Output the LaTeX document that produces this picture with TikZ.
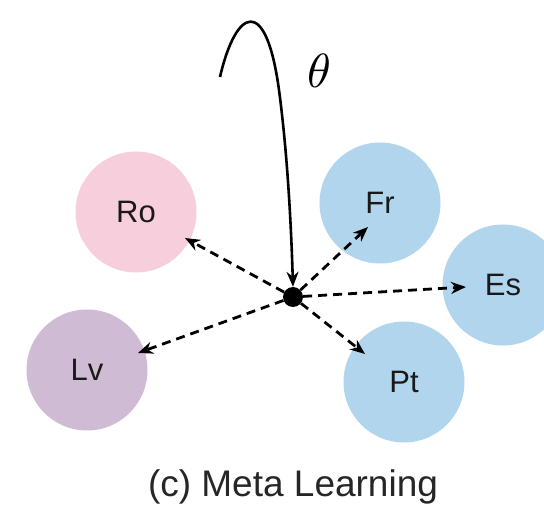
\documentclass[tikz,border=0pt]{standalone}
\usepackage{fontspec}
\setmainfont{Liberation Sans}
\usetikzlibrary{arrows.meta}
\definecolor{pinkc}{RGB}{247,207,220}
\definecolor{purplec}{RGB}{208,187,212}
\definecolor{bluec}{RGB}{178,213,238}
\tikzset{
  lang/.style={circle, minimum size=121pt, inner sep=0pt, font=\fontsize{31}{36}\selectfont, text=black!90},
  darr/.style={line width=2.8pt, dash pattern=on 9pt off 6pt, -{Stealth[length=15pt,width=12pt]}},
}
\begin{document}
\begin{tikzpicture}[x=1pt,y=-1pt]
\useasboundingbox (0,0) rectangle (544,510);
\node[lang, fill=pinkc] (ro) at (136,212) {Ro};
\node[lang, fill=purplec] (lv) at (87,370) {Lv};
\node[lang, fill=bluec] (fr) at (380,203) {Fr};
\node[lang, fill=bluec] (es) at (503,285) {Es};
\node[lang, fill=bluec] (pt) at (404,382) {Pt};
\node[circle, fill=black, minimum size=20pt, inner sep=0pt] (dot) at (293,297) {};
\coordinate (s) at (220,77);
\coordinate (tro) at (185,238);
\coordinate (tlv) at (138,353);
\coordinate (tfr) at (368,227);
\coordinate (tes) at (466,287);
\coordinate (tpt) at (365,354);
\draw[line width=2.6pt, -{Stealth[length=15pt,width=12pt]}] (s) .. controls (236,8) and (266,-6) .. (279,90) .. controls (287,150) and (291,220) .. (dot.north);
\node[inner sep=0pt] (theta) at (319,71) {\scalebox{4.8}{$\theta$}};
\draw[darr] (dot) -- (tro);
\draw[darr] (dot) -- (tlv);
\draw[darr] (dot) -- (tfr);
\draw[darr] (dot) -- (tes);
\draw[darr] (dot) -- (tpt);
\node[font=\fontsize{37}{44}\selectfont, text=black!85] (cap) at (293,487) {(c) Meta Learning};
\end{tikzpicture}
\end{document}
